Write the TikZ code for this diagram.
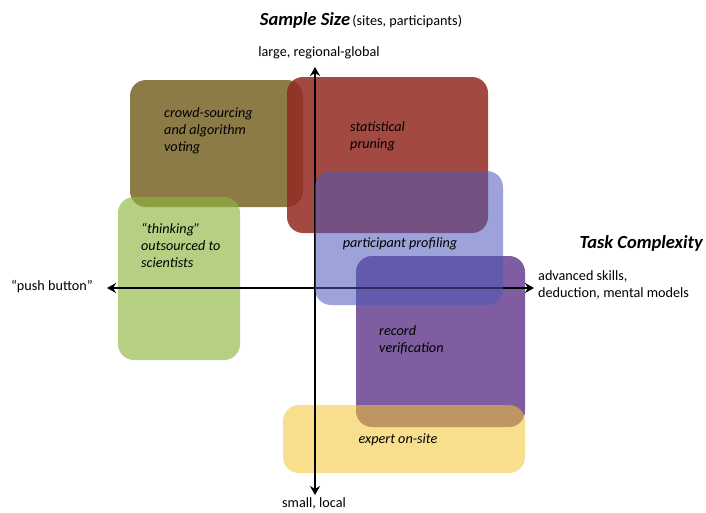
\documentclass[tikz,border=0pt]{standalone}
\usepackage{fontspec}
\setmainfont{Carlito}
\usetikzlibrary{arrows.meta}
\definecolor{oliveC}{RGB}{140,123,71}
\definecolor{redC}{RGB}{146,42,33}
\definecolor{greenC}{RGB}{141,181,64}
\definecolor{purpleC}{RGB}{126,93,160}
\definecolor{blueC}{RGB}{77,88,184}
\definecolor{yellowC}{RGB}{242,197,50}
\begin{document}
\begin{tikzpicture}[x=1pt,y=-1pt,
  region/.style={rounded corners=16pt, draw=none, inner sep=0pt},
  lbl/.style={font=\fontsize{14.2}{17}\selectfont, inner sep=0pt, align=left},
  ilbl/.style={font=\fontsize{14.2}{17}\selectfont\itshape, inner sep=0pt, align=left},
  axis/.style={line width=2.4pt, {Stealth[length=9pt,width=10pt]}-{Stealth[length=9pt,width=10pt]}},
  ttl/.style={font=\fontsize{18.5}{20}\selectfont\bfseries\itshape, inner sep=0pt}
]
\useasboundingbox (0,0) rectangle (706,512);
% regions
\fill[region, oliveC] (130,80) rectangle (303,207);
\fill[region, redC, fill opacity=0.85] (287,77) rectangle (488,233);
\fill[region, greenC, fill opacity=0.65] (118,197) rectangle (240,360);
\fill[region, purpleC] (356,256) rectangle (525,427);
\fill[region, yellowC, fill opacity=0.55] (283,405) rectangle (525,473);
% axes
\coordinate (top) at (315,67);
\coordinate (bot) at (315,495);
\coordinate (lft) at (107,288);
\coordinate (rgt) at (534,288);
\draw[axis] (bot) -- (top);
\draw[axis] (lft) -- (rgt);
\fill[region, blueC, fill opacity=0.55] (315,171) rectangle (503,305);
% labels
\node[ilbl, anchor=west] (crowd) at (164,131) {crowd-sourcing\\and algorithm\\voting};
\node[ilbl, anchor=west] (stat) at (350,136) {statistical\\pruning};
\node[ilbl, anchor=west] (think) at (141,245) {“thinking”\\outsourced to\\scientists};
\node[ilbl] (prof) at (400,244) {participant profiling};
\node[ilbl, anchor=west] (rec) at (379,340) {record\\verification};
\node[ilbl] (exp) at (398,440) {expert on-site};
\node[lbl, anchor=west] (adv) at (538,285) {advanced skills,\\deduction, mental models};
\node[lbl, anchor=east] (push) at (93,287) {“push button”};
\node[lbl] (small) at (314,503) {small, local};
\node[lbl] (large) at (319,53) {large, regional-global};
\node[ttl, anchor=east] (task) at (703,243) {Task Complexity};
\node[inner sep=0pt] (title) at (361,20) {{\fontsize{18.5}{20}\selectfont\bfseries\itshape Sample Size} {\fontsize{14.2}{17}\selectfont(sites, participants)}};
\end{tikzpicture}
\end{document}
